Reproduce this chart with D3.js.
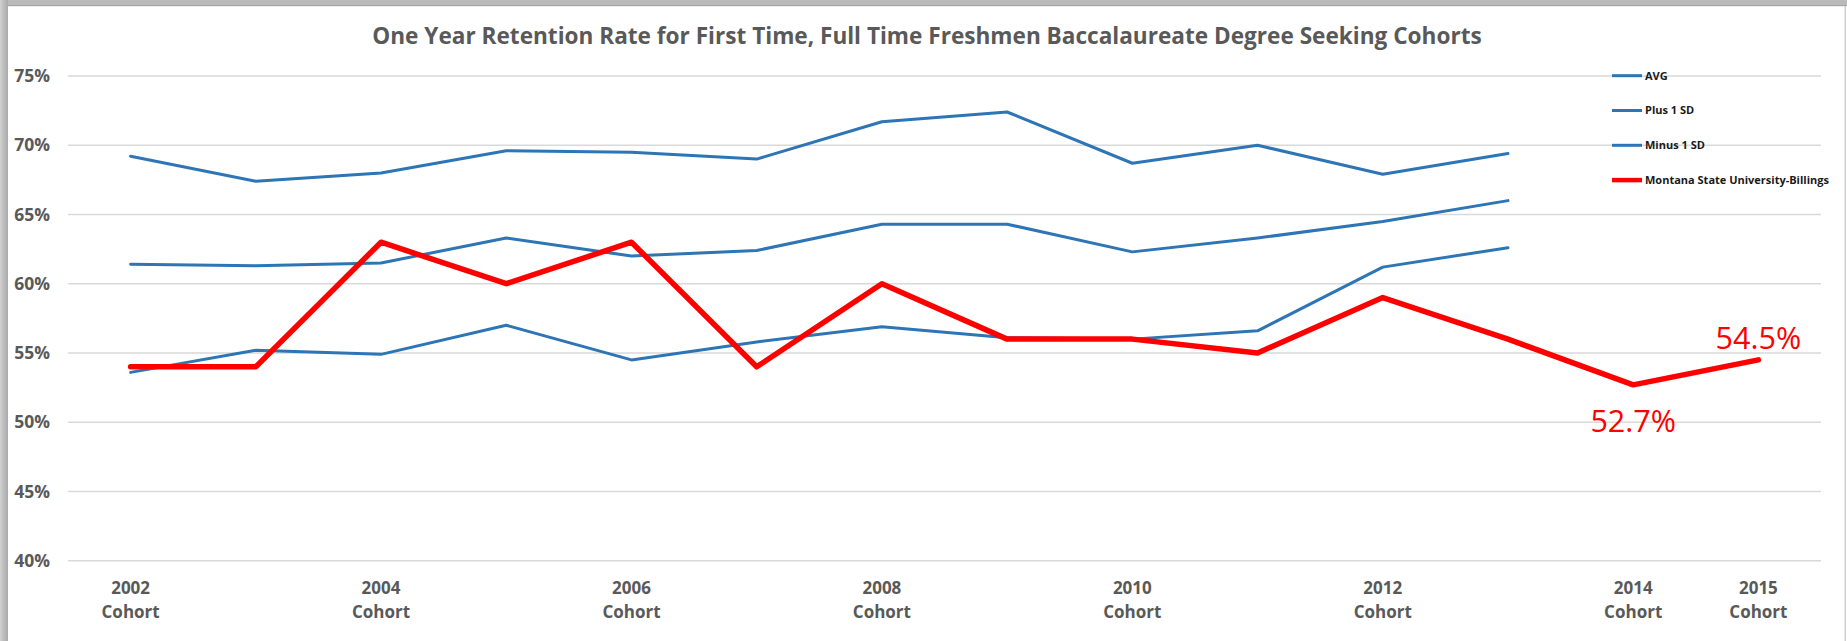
<!DOCTYPE html>
<html>
<head>
<meta charset="utf-8">
<script src="https://cdnjs.cloudflare.com/ajax/libs/d3/7.8.5/d3.min.js"></script>
<style>
  html, body { margin: 0; padding: 0; background: #fff; }
  svg { display: block; font-family: "Open Sans", sans-serif; }
</style>
</head>
<body>
<script>
// 1. DATA -------------------------------------------------------------------------

const years = ["2002", "2003", "2004", "2005", "2006", "2007", "2008",
               "2009", "2010", "2011", "2012", "2013", "2014", "2015"];

const avg    = [61.4, 61.3, 61.5, 63.3, 62.0, 62.4, 64.3, 64.3, 62.3, 63.3, 64.5, 66.0];
const plus1  = [69.2, 67.4, 68.0, 69.6, 69.5, 69.0, 71.7, 72.4, 68.7, 70.0, 67.9, 69.4];
const minus1 = [53.6, 55.2, 54.9, 57.0, 54.5, 55.8, 56.9, 56.1, 56.0, 56.6, 61.2, 62.6];
const msub   = [54.0, 54.0, 63.0, 60.0, 63.0, 54.0, 60.0, 56.0, 56.0, 55.0, 59.0, 56.0, 52.7, 54.5];

const yTicks = [40, 45, 50, 55, 60, 65, 70, 75];
const xTickYears = ["2002", "2004", "2006", "2008", "2010", "2012", "2014", "2015"];
const labelYears = ["2014", "2015"]; // data labels on the red series

const seriesNames = ["AVG", "Plus 1 SD", "Minus 1 SD", "Montana State University-Billings"];

// 2. SETUP -------------------------------------------------------------------------

const width = 1847,
      height = 641,
      blue = "#2e75b6",
      red = "#ff0000",
      axisText = "#595959",
      gridColor = "#d9d9d9";

const plot = { left: 68, right: 1821, top: 76, bottom: 560.7 };

let svg = d3.select("body")
  .append("svg")
  .attr("width", width)
  .attr("height", height);

// frame / shadow of the pasted chart
let defs = svg.append("defs");
let lg = defs.append("linearGradient").attr("id", "leftShade").attr("x1", 0).attr("x2", 1);
lg.append("stop").attr("offset", 0).attr("stop-color", "#d2d2d2");
lg.append("stop").attr("offset", 0.45).attr("stop-color", "#bdbdbd");
lg.append("stop").attr("offset", 1).attr("stop-color", "#aaaaaa");

svg.append("rect").attr("x", 0).attr("y", 0).attr("width", width).attr("height", 6).attr("fill", "#bababa");
svg.append("rect").attr("x", 0).attr("y", 5).attr("width", width).attr("height", 1.2).attr("fill", "#a5a5a5");
svg.append("rect").attr("x", 0).attr("y", 0).attr("width", 8).attr("height", height).attr("fill", "url(#leftShade)");
svg.append("rect").attr("x", 1844.5).attr("y", 6).attr("width", 1.5).attr("height", height).attr("fill", "#cfcfcf");

let x = d3.scaleBand()
  .domain(years)
  .range([plot.left, plot.right])
  .padding(0);

let y = d3.scaleLinear()
  .domain([40, 75])
  .range([plot.bottom, plot.top]);

const cx = d => x(d) + x.bandwidth() / 2;

// 3. GRID AND AXES -------------------------------------------------------------------------

svg.append("g")
  .attr("class", "grid")
  .selectAll("line")
  .data(yTicks)
  .enter()
  .append("line")
  .attr("x1", plot.left)
  .attr("x2", plot.right)
  .attr("y1", d => y(d))
  .attr("y2", d => y(d))
  .attr("stroke", gridColor)
  .attr("stroke-width", 1.4);

let yAxis = svg.append("g")
  .attr("transform", `translate(${plot.left},0)`)
  .call(d3.axisLeft(y).tickValues(yTicks).tickFormat(d => d + "%").tickSize(0).tickPadding(18));
yAxis.select(".domain").remove();
yAxis.selectAll("text")
  .attr("fill", axisText)
  .style("font-size", "17.5px")
  .style("font-weight", 700)
  .style("font-family", "'Open Sans', sans-serif");

let xAxis = svg.append("g")
  .attr("transform", `translate(0,${plot.bottom})`)
  .call(d3.axisBottom(x).tickValues(xTickYears).tickSize(0).tickFormat(""));
xAxis.select(".domain").remove();
xAxis.selectAll(".tick").each(function(d) {
  let t = d3.select(this).append("text")
    .attr("fill", axisText)
    .attr("text-anchor", "middle")
    .style("font-size", "17px")
    .style("font-weight", 700)
    .style("font-family", "'Open Sans', sans-serif");
  t.append("tspan").attr("x", 0).attr("y", 33.5).text(d);
  t.append("tspan").attr("x", 0).attr("y", 57.5).text("Cohort");
});

// 4. LINES -------------------------------------------------------------------------

const line = d3.line()
  .x((d, i) => cx(years[i]))
  .y(d => y(d));

const series = [
  { name: seriesNames[0], values: avg,    color: blue, w: 3 },
  { name: seriesNames[1], values: plus1,  color: blue, w: 3 },
  { name: seriesNames[2], values: minus1, color: blue, w: 3 },
  { name: seriesNames[3], values: msub,   color: red,  w: 5.5 }
];

svg.append("g")
  .attr("class", "lines")
  .selectAll("path")
  .data(series)
  .enter()
  .append("path")
  .attr("d", d => line(d.values))
  .attr("fill", "none")
  .attr("stroke", d => d.color)
  .attr("stroke-width", d => d.w)
  .attr("stroke-linejoin", "round")
  .attr("stroke-linecap", "round");

// data labels for the last two MSU-B points
svg.append("g")
  .selectAll("text")
  .data(labelYears)
  .enter()
  .append("text")
  .attr("x", d => cx(d))
  .attr("y", d => {
    let v = msub[years.indexOf(d)];
    return d == "2014" ? y(v) + 47 : y(v) - 11;
  })
  .attr("text-anchor", "middle")
  .attr("fill", red)
  .style("font-size", "30.5px")
  .text(d => msub[years.indexOf(d)].toFixed(1) + "%");

// 5. TITLE AND LEGEND -------------------------------------------------------------------------

svg.append("text")
  .attr("x", 927)
  .attr("y", 43.5)
  .attr("text-anchor", "middle")
  .attr("fill", axisText)
  .style("font-size", "22.6px")
  .style("font-weight", 700)
  .text("One Year Retention Rate for First Time, Full Time Freshmen Baccalaureate Degree Seeking Cohorts");

let legend = svg.append("g")
  .attr("class", "legend")
  .selectAll("g")
  .data(series)
  .enter()
  .append("g")
  .attr("transform", (d, i) => `translate(1612,${75.7 + i * 34.8})`);

legend.append("line")
  .attr("x1", 0)
  .attr("x2", 30)
  .attr("stroke", d => d.color)
  .attr("stroke-width", d => d.w > 4 ? 4.5 : 3);

legend.append("text")
  .attr("x", 33)
  .attr("dy", "0.35em")
  .attr("fill", "#1a1a1a")
  .style("font-size", "11px")
  .style("font-weight", 700)
  .text(d => d.name);
</script>
</body>
</html>
